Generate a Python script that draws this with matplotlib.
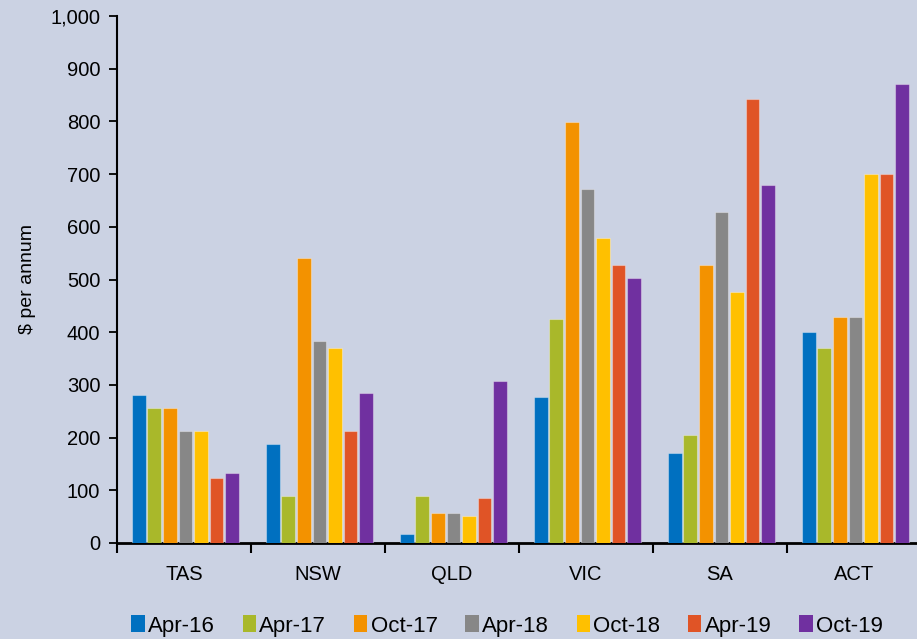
import matplotlib
matplotlib.use("Agg")
import matplotlib.pyplot as plt
import numpy as np
from matplotlib.ticker import FuncFormatter, FixedLocator

categories = ["TAS", "NSW", "QLD", "VIC", "SA", "ACT"]
series_names = ["Apr-16", "Apr-17", "Oct-17", "Apr-18", "Oct-18", "Apr-19", "Oct-19"]
apr16 = [281, 188, 18, 277, 170, 400]
apr17 = [256, 90, 90, 425, 204, 370]
oct17 = [256, 540, 56, 799, 527, 429]
apr18 = [212, 383, 56, 672, 629, 429]
oct18 = [212, 370, 52, 579, 476, 701]
apr19 = [124, 213, 86, 527, 842, 701]
oct19 = [132, 285, 307, 502, 680, 871]
series = [apr16, apr17, oct17, apr18, oct18, apr19, oct19]
colors = ["#0070C0", "#A9B82A", "#F39200", "#878787", "#FFC000", "#E05426", "#7030A0"]
bg = "#CBD2E3"

fam = ["Liberation Sans", "DejaVu Sans"]

fig = plt.figure(figsize=(9.17, 6.39), dpi=100, facecolor=bg)
ax = fig.add_axes([117/917, 1-543/639, 804/917, 527/639], facecolor=bg)

x = np.arange(len(categories))
slot = 0.116
bw = 0.102
for i, (name, vals, c) in enumerate(zip(series_names, series, colors)):
    ax.bar(x + (i - 3) * slot + 0.01, vals, width=bw, color=c, label=name,
           edgecolor=(1, 1, 1, 0.35), linewidth=0.8, zorder=3)

ax.set_xlim(-0.5, 5.5)
ax.set_ylim(0, 1000)
ax.set_yticks(np.arange(0, 1001, 100))
ax.yaxis.set_major_formatter(FuncFormatter(lambda v, p: f"{int(v):,}"))
ax.set_xticks(x)
ax.set_xticklabels(categories, family=fam, fontsize=14.5)
ax.xaxis.set_minor_locator(FixedLocator(np.arange(-0.5, 6.0, 1.0)))
ax.tick_params(axis="x", which="major", length=0, pad=16)
ax.tick_params(axis="x", which="minor", length=7, width=1.5, direction="out", color="black")
ax.tick_params(axis="y", length=6, width=1.3, direction="out", pad=6, labelsize=14.5)
for lab in ax.get_yticklabels():
    lab.set_family(fam)
for s in ["top", "right"]:
    ax.spines[s].set_visible(False)
ax.spines["left"].set_linewidth(1.5)
ax.spines["bottom"].set_linewidth(2.0)

ax.set_ylabel("$ per annum", fontsize=14, family=fam, labelpad=10)

leg = fig.legend(loc="center", bbox_to_anchor=(507/917, 1-626/639), ncol=7, frameon=False,
                 handlelength=0.6, handleheight=0.8, handletextpad=0.15, columnspacing=1.25,
                 prop={"family": fam, "size": 16})
for h in leg.legend_handles:
    h.set_edgecolor("none")

fig.savefig("out.png", dpi=100, facecolor=bg)
